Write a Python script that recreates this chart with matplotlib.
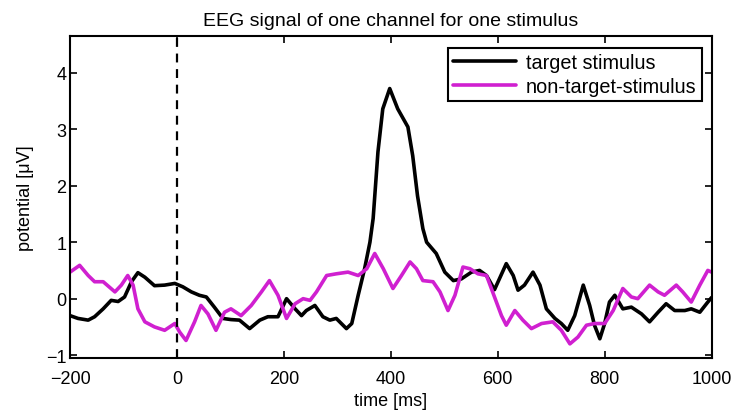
import numpy as np
import matplotlib.pyplot as plt

plt.rcParams['font.family'] = ['Liberation Sans', 'DejaVu Sans']

# target stimulus (ms, uV)
target_t = [-200, -185, -166, -154, -138, -123, -110, -98, -85, -73, -60, -42,
            -23, -4, 11, 27, 42, 55, 70, 86, 101, 117, 136, 155, 170, 189, 205,
            221, 233, 242, 258, 273, 286, 298, 317, 327, 339, 351, 361, 367, 376,
            385, 398, 413, 432, 441, 450, 460, 467, 485, 501, 517, 532, 551, 566,
            579, 594, 616, 629, 638, 650, 666, 679, 691, 707, 719, 731, 744, 760,
            772, 781, 791, 800, 809, 819, 834, 850, 869, 884, 900, 915, 931, 950,
            962, 978, 993, 1000]
target_v = [-0.30, -0.35, -0.38, -0.32, -0.18, -0.03, -0.05, 0.03, 0.30, 0.46,
            0.38, 0.23, 0.24, 0.27, 0.21, 0.12, 0.06, 0.03, -0.15, -0.35, -0.37,
            -0.38, -0.53, -0.38, -0.32, -0.32, 0.00, -0.18, -0.30, -0.21, -0.12,
            -0.32, -0.38, -0.35, -0.53, -0.44, 0.06, 0.53, 1.00, 1.42, 2.60,
            3.36, 3.72, 3.36, 3.04, 2.53, 1.82, 1.24, 1.00, 0.80, 0.47, 0.32,
            0.35, 0.47, 0.50, 0.41, 0.16, 0.62, 0.41, 0.15, 0.24, 0.47, 0.24,
            -0.18, -0.35, -0.44, -0.56, -0.30, 0.24, -0.12, -0.47, -0.71, -0.44,
            -0.06, 0.06, -0.18, -0.15, -0.27, -0.41, -0.24, -0.09, -0.21, -0.21,
            -0.18, -0.24, -0.06, 0.02]

# non-target stimulus
nontarget_t = [-200, -182, -166, -154, -138, -116, -104, -92, -82, -73, -60, -42,
               -23, -4, 5, 17, 33, 45, 58, 73, 89, 101, 120, 139, 158, 173, 189,
               205, 221, 236, 249, 261, 280, 298, 320, 339, 355, 370, 386, 404,
               420, 436, 448, 460, 479, 492, 507, 520, 535, 548, 563, 579, 594,
               607, 616, 632, 647, 663, 682, 703, 719, 735, 750, 766, 781, 800,
               816, 834, 850, 862, 884, 900, 912, 934, 946, 962, 978, 993, 1000]
nontarget_v = [0.47, 0.59, 0.41, 0.30, 0.30, 0.12, 0.24, 0.41, 0.24, -0.18,
               -0.41, -0.50, -0.56, -0.44, -0.59, -0.74, -0.41, -0.12, -0.27,
               -0.56, -0.24, -0.18, -0.30, -0.12, 0.12, 0.32, 0.06, -0.35, -0.09,
               0.00, -0.03, 0.12, 0.41, 0.44, 0.47, 0.41, 0.53, 0.80, 0.53, 0.18,
               0.41, 0.65, 0.53, 0.32, 0.30, 0.12, -0.21, 0.06, 0.56, 0.53, 0.44,
               0.41, 0.03, -0.30, -0.47, -0.21, -0.38, -0.53, -0.44, -0.41, -0.56,
               -0.80, -0.68, -0.47, -0.44, -0.44, -0.21, 0.18, 0.03, 0.00, 0.24,
               0.12, 0.06, 0.24, 0.12, -0.06, 0.24, 0.50, 0.47]

x_ticks = [-200, 0, 200, 400, 600, 800, 1000]
y_ticks = [-1, 0, 1, 2, 3, 4]

fig = plt.figure(figsize=(7.48, 4.14), dpi=100)
ax = fig.add_axes([0.0936, 0.1329, 0.8577, 0.7777])

ax.plot(target_t, target_v, color='black', lw=2.6, label='target stimulus',
        solid_joinstyle='round', solid_capstyle='round')
ax.plot(nontarget_t, nontarget_v, color='#d020d0', lw=2.6,
        label='non-target-stimulus', solid_joinstyle='round', solid_capstyle='round')
ax.axvline(0, color='black', lw=1.6, ls=(0, (4, 3)))

ax.set_xlim(-200, 1000)
ax.set_ylim(-1.05, 4.65)
ax.set_xticks(x_ticks)
ax.set_yticks(y_ticks)
ax.set_xticklabels([str(t).replace('-', '\u2212') for t in x_ticks])
ax.set_yticklabels([str(t).replace('-', '\u2212') for t in y_ticks])
ax.tick_params(direction='in', length=5, width=1.2, labelsize=13,
               top=True, right=True)
ax.tick_params(axis='x', pad=9)
ax.tick_params(axis='y', pad=2.5)
for s in ax.spines.values():
    s.set_linewidth(1.5)

ax.set_xlabel('time [ms]', fontsize=13, labelpad=3)
ax.set_ylabel('potential [\u03bcV]', fontsize=13, labelpad=9)
ax.set_title('EEG signal of one channel for one stimulus', fontsize=14, pad=8)

leg = ax.legend(loc='upper right', fontsize=14.3, fancybox=False, framealpha=1,
                edgecolor='black', borderpad=0.25, labelspacing=0.25,
                handlelength=3.2, handletextpad=0.5,
                bbox_to_anchor=(1.0, 0.993))
leg.get_frame().set_linewidth(1.5)

fig.savefig('out.png', dpi=100)
